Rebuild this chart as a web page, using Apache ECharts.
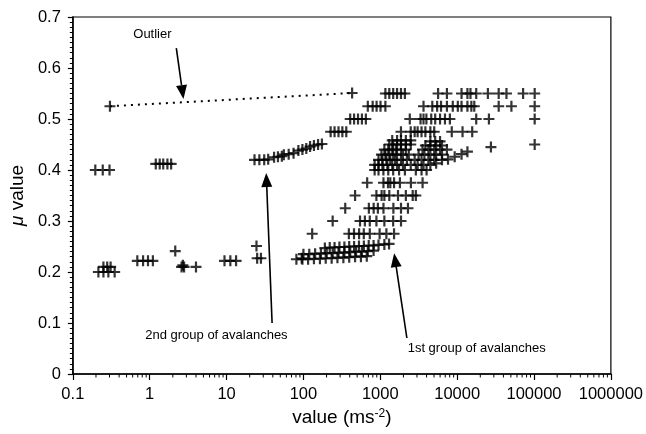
<!DOCTYPE html>
<html><head><meta charset="utf-8">
<script src="https://cdn.jsdelivr.net/npm/echarts@6/dist/echarts.min.js"></script>
<style>html,body{margin:0;padding:0;background:#fff}#c{width:646px;height:434px}</style>
</head><body><div id="c"></div>
<script>
// ---- data (x = value in m/s^2, y = mu value) ----
const outlierPts = [[0.304,0.525],[430,0.551]];
const leftPts = [
  [0.196,0.4],[0.245,0.4],[0.30,0.4],
  [1.2,0.412],[1.35,0.412],[1.5,0.412],[1.7,0.412],[1.9,0.412],
  [0.215,0.2],[0.25,0.2],[0.29,0.2],[0.35,0.2],
  [0.25,0.21],[0.28,0.21],[0.31,0.21],
  [0.69,0.222],[0.82,0.222],[0.95,0.222],[1.1,0.222],
  [2.15,0.241],[2.6,0.21],[2.8,0.21],[2.7,0.213],[4.0,0.21],
  [9.4,0.222],[11.2,0.222],[13.3,0.222],
  [24.5,0.251],[25,0.227],[28,0.227]
];
const group2Pts = [
  [23.1,0.42],[26.7,0.42],[30.9,0.42],[34.8,0.421],
  [41.5,0.425],[46.6,0.426],[52.4,0.427],
  [55.6,0.43],[64.3,0.431],[74.4,0.433],
  [86,0.438],[97,0.44],[109,0.442],
  [122,0.446],[137,0.448],[155,0.45],[174,0.451],
  [226,0.475],[254,0.475],[286,0.475],[321,0.475],[361,0.475],
  [406,0.5],[456,0.5],[513,0.5],[577,0.5],[649,0.5],
  [688,0.525],[796,0.525],[895,0.525],[1007,0.525],[1165,0.525],
  [1165,0.55],[1309,0.55],[1472,0.55],[1652,0.55],[1858,0.55],[2089,0.55]
];
const group1UpperPts = [
  [5650,0.55],[7360,0.55],[11400,0.55],[13600,0.55],[14900,0.55],[17700,0.55],[25100,0.55],[34700,0.55],[43800,0.55],[72100,0.55],[102000,0.55],
  [3650,0.525],[4750,0.525],[5490,0.525],[6170,0.525],[7360,0.525],[8770,0.525],[10200,0.525],[11400,0.525],[13600,0.525],[15300,0.525],[16700,0.525],[34700,0.525],[50800,0.525],[102000,0.525],
  [2420,0.5],[3340,0.5],[3650,0.5],[3980,0.5],[4600,0.5],[5180,0.5],[5990,0.5],[6940,0.5],[8040,0.5],[17700,0.5],[25900,0.5],[102000,0.5],
  [1858,0.475],[2490,0.475],[2800,0.475],[3060,0.475],[3440,0.475],[3860,0.475],[4480,0.475],[5030,0.475],[8510,0.475],[11750,0.475],[15700,0.475],
  [102000,0.45],[27500,0.445]
];
const group1ClusterPts = [
  [1430,0.458],[1652,0.458],[1858,0.458],[2150,0.458],[2490,0.458],[4480,0.456],[5180,0.456],[5990,0.456],
  [1309,0.45],[1472,0.45],[1652,0.45],[1858,0.45],[2150,0.45],[2490,0.45],[3860,0.448],[4480,0.448],[5330,0.448],[6350,0.448],
  [1130,0.44],[1270,0.44],[1430,0.44],[1610,0.44],[1858,0.44],[2150,0.44],[3540,0.44],[4220,0.44],[5030,0.44],[5990,0.44],[7360,0.44],
  [1036,0.43],[1165,0.43],[1309,0.43],[1472,0.43],[1652,0.43],[1970,0.43],[2350,0.43],[3150,0.43],[3750,0.43],[4480,0.43],[5330,0.43],[6350,0.43],
  [948,0.42],[1066,0.42],[1200,0.42],[1349,0.42],[1560,0.42],[1858,0.42],[2220,0.42],[2800,0.42],[3440,0.42],[4220,0.42],[5030,0.42],[6350,0.42],[7600,0.421],[9290,0.426],[11400,0.431],[13600,0.436],
  [844,0.41],[948,0.41],[1066,0.41],[1234,0.41],[1430,0.41],[1652,0.41],[1970,0.41],[2490,0.41],[3060,0.41],[3650,0.41],[4480,0.41],[5330,0.413],
  [844,0.4],[948,0.4],[1098,0.4],[1270,0.4],[1472,0.4],[1755,0.4],[2090,0.4],[2900,0.4],[3440,0.4],[4000,0.4]
];
const group1LowerPts = [
  [675,0.375],[1100,0.375],[1260,0.375],[1350,0.375],[1510,0.375],[1800,0.375],[2500,0.375],[3550,0.375],
  [470,0.35],[890,0.35],[1040,0.35],[1130,0.35],[1310,0.35],[1700,0.35],[2150,0.35],[2640,0.35],[2900,0.35],
  [350,0.325],[710,0.325],[820,0.325],[930,0.325],[1100,0.325],[1480,0.325],[1860,0.325],[2290,0.325],
  [240,0.3],[545,0.3],[630,0.3],[730,0.3],[890,0.3],[1130,0.3],[1470,0.3],[1860,0.3],
  [130,0.275],[390,0.275],[455,0.275],[530,0.275],[610,0.275],[730,0.275],[980,0.275],[1200,0.275],[1510,0.275]
];
const lowBandPts = [
  [190,0.247],[220,0.248],[254,0.248],[294,0.249],[341,0.249],[394,0.25],[456,0.25],[528,0.251],[611,0.251],[707,0.252],[818,0.252],[948,0.253],[1130,0.254],[1300,0.255],
  [100,0.235],[119,0.235],[142,0.236],[169,0.236],[201,0.237],[240,0.237],[286,0.238],[341,0.238],[406,0.239],[484,0.24],[577,0.24],[688,0.241],[818,0.242],
  [81,0.225],[95,0.227],[97,0.225],[115,0.225],[137,0.226],[164,0.226],[195,0.227],[233,0.227],[277,0.228],[331,0.228],[394,0.229],[470,0.23],[560,0.23],[667,0.231]
];
const xTickLabels = ['0.1','1','10','100','1000','10000','100000','1000000'];
const yTickLabels = ['0','0.1','0.2','0.3','0.4','0.5','0.6','0.7'];
const annotTexts = ['Outlier','2nd group of avalanches','1st group of avalanches'];
const annotAt = [[1.085,0.665],[7.38,0.0765],[17950,0.051]];
const arrowFrom = [[2.22,0.639],[39.1,0.1],[2218,0.0706]];
const arrowTo = [[2.75,0.539],[32.8,0.394],[1514,0.237]];

// axis decoration: log minor ticks 2..9 per decade
const minorTicks = [];
for (let e = -1; e < 6; e++) for (let m = 2; m <= 9; m++) minorTicks.push([m * Math.pow(10, e), 0]);

const FONT = 'Liberation Sans, Arial, sans-serif';
const PLUS = 'path://M4.4,0H6.6V4.4H11V6.6H6.6V11H4.4V6.6H0V4.4H4.4Z';
function scat(data){
  return {type:'scatter', data, symbol:PLUS, symbolSize:11, itemStyle:{color:'#000'}, silent:true, z:3};
}
const chart = echarts.init(document.getElementById('c'), null, {renderer:'canvas'});
chart.setOption({
  animation:false,
  backgroundColor:'#fff',
  textStyle:{fontFamily:FONT},
  grid:{left:64,right:31,top:17,bottom:60,show:true,borderColor:'#000',borderWidth:1.2,backgroundColor:'transparent'},
  xAxis:{
    type:'log', logBase:10, min:0.1, max:1000000,
    name:'value (ms{s|-2})', nameLocation:'middle', nameGap:28,
    nameTextStyle:{fontSize:19,color:'#000',fontFamily:FONT,rich:{s:{fontSize:12,verticalAlign:'top',color:'#000',fontFamily:FONT}}},
    axisLine:{show:true,lineStyle:{color:'#000',width:1.5}},
    axisTick:{show:true,length:6,lineStyle:{color:'#000',width:1.2}},
    splitLine:{show:false},
    axisLabel:{fontSize:16.5,color:'#000',margin:12,fontFamily:FONT,
      formatter:(v)=>{const i=Math.round(Math.log10(v))+1; return xTickLabels[i];}}
  },
  yAxis:{
    type:'value', min:0, max:0.7, interval:0.1,
    name:'{m|μ} value', nameLocation:'middle', nameGap:34, nameRotate:90,
    nameTextStyle:{fontSize:19,color:'#000',fontFamily:FONT,rich:{m:{fontSize:19,fontStyle:'italic',color:'#000',fontFamily:FONT}}},
    axisLine:{show:true,lineStyle:{color:'#000',width:1.5}},
    axisTick:{show:true,length:5,lineStyle:{color:'#000',width:1.2}},
    minorTick:{show:true,splitNumber:10,length:3,lineStyle:{color:'#000',width:1}},
    splitLine:{show:false}, minorSplitLine:{show:false},
    axisLabel:{fontSize:16.5,color:'#000',margin:12,fontFamily:FONT,
      formatter:(v)=>yTickLabels[Math.round(v*10)]}
  },
  series:[
    {type:'custom', silent:true, clip:false, z:1, data:minorTicks,
      renderItem:(p,api)=>{const c=api.coord([api.value(0),0.0000001]);
        return {type:'line',shape:{x1:c[0],y1:c[1],x2:c[0],y2:c[1]+3.5},style:{stroke:'#000',lineWidth:1}};}},
    {type:'line', data:outlierPts, showSymbol:false, silent:true, z:2,
      lineStyle:{color:'#000',width:2,type:[2,5]}},
    scat(outlierPts), scat(leftPts), scat(group2Pts), scat(group1UpperPts),
    scat(group1ClusterPts), scat(group1LowerPts), scat(lowBandPts),
    {type:'custom', silent:true, clip:false, z:4,
      data: arrowFrom.map((f,i)=>[f[0],f[1],arrowTo[i][0],arrowTo[i][1]]),
      renderItem:(p,api)=>{
        const a=api.coord([api.value(0),api.value(1)]), b=api.coord([api.value(2),api.value(3)]);
        const dx=b[0]-a[0], dy=b[1]-a[1], L=Math.hypot(dx,dy), ux=dx/L, uy=dy/L;
        const hl=14, hw=5.5;
        const bx=b[0]-ux*hl, by=b[1]-uy*hl;
        return {type:'group',children:[
          {type:'line',shape:{x1:a[0],y1:a[1],x2:bx,y2:by},style:{stroke:'#000',lineWidth:1.6}},
          {type:'polygon',shape:{points:[[b[0],b[1]],[bx-uy*hw,by+ux*hw],[bx+uy*hw,by-ux*hw]]},style:{fill:'#000'}}
        ]};
      }},
    {type:'custom', silent:true, clip:false, z:4,
      data: annotAt.map((p,i)=>[p[0],p[1],i]),
      renderItem:(p,api)=>{
        const c=api.coord([api.value(0),api.value(1)]);
        return {type:'text',x:c[0],y:c[1],style:{text:annotTexts[api.value(2)],fill:'#000',fontSize:13,fontFamily:FONT,align:'center',verticalAlign:'middle'}};
      }}
  ]
});
</script></body></html>
